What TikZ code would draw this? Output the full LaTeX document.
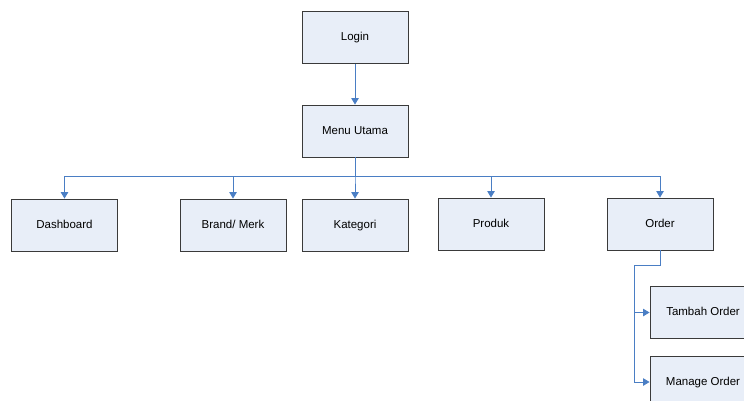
\documentclass[tikz,border=0pt]{standalone}
\usepackage{fontspec}
\setmainfont{Liberation Sans}
\usetikzlibrary{arrows.meta}
\usetikzlibrary{positioning}

\definecolor{boxfill}{HTML}{E8EEF8}
\definecolor{boxline}{HTML}{3A3A3A}
\definecolor{linkblue}{HTML}{4A7EC4}

\tikzset{
  menubox/.style={draw=boxline,fill=boxfill,line width=0.9pt,minimum width=106pt,minimum height=52pt,inner sep=0pt,text height=8.5pt,text depth=2.5pt,font=\fontsize{11.5}{13}\selectfont},
  link/.style={draw=linkblue,line width=0.9pt,-{Triangle[length=6.5pt,width=7.5pt]}},
}

\begin{document}
\begin{tikzpicture}[x=1pt,y=-1pt]
\clip (0,0) rectangle (744,400);
% top of the menu tree
\node[menubox] (login) at (355,37.5) {Login};
\node[menubox] (menu) at (355,131) {Menu Utama};
% second level
\node[menubox] (dash) at (64.5,225) {Dashboard};
\node[menubox] (brand) at (233,225) {Brand/ Merk};
\node[menubox] (kat) at (355,225) {Kategori};
\node[menubox] (produk) at (491,224) {Produk};
\node[menubox] (order) at (660,224) {Order};
% order submenu
\node[menubox] (tambah) at (703,312.5) {Tambah Order};
\node[menubox] (manage) at (703,382) {Manage Order};
\coordinate (bus) at (0,176);
\coordinate (turn) at (634,265);
\draw[link] (login) -- (menu);
\foreach \n in {dash,brand,kat,produk,order}
  \draw[link] (menu.south) |- (bus -| \n.north) -- (\n.north);
\draw[link] (order.south) |- (turn) |- (tambah.west);
\draw[link] (turn) |- (manage.west);
\end{tikzpicture}
\end{document}
